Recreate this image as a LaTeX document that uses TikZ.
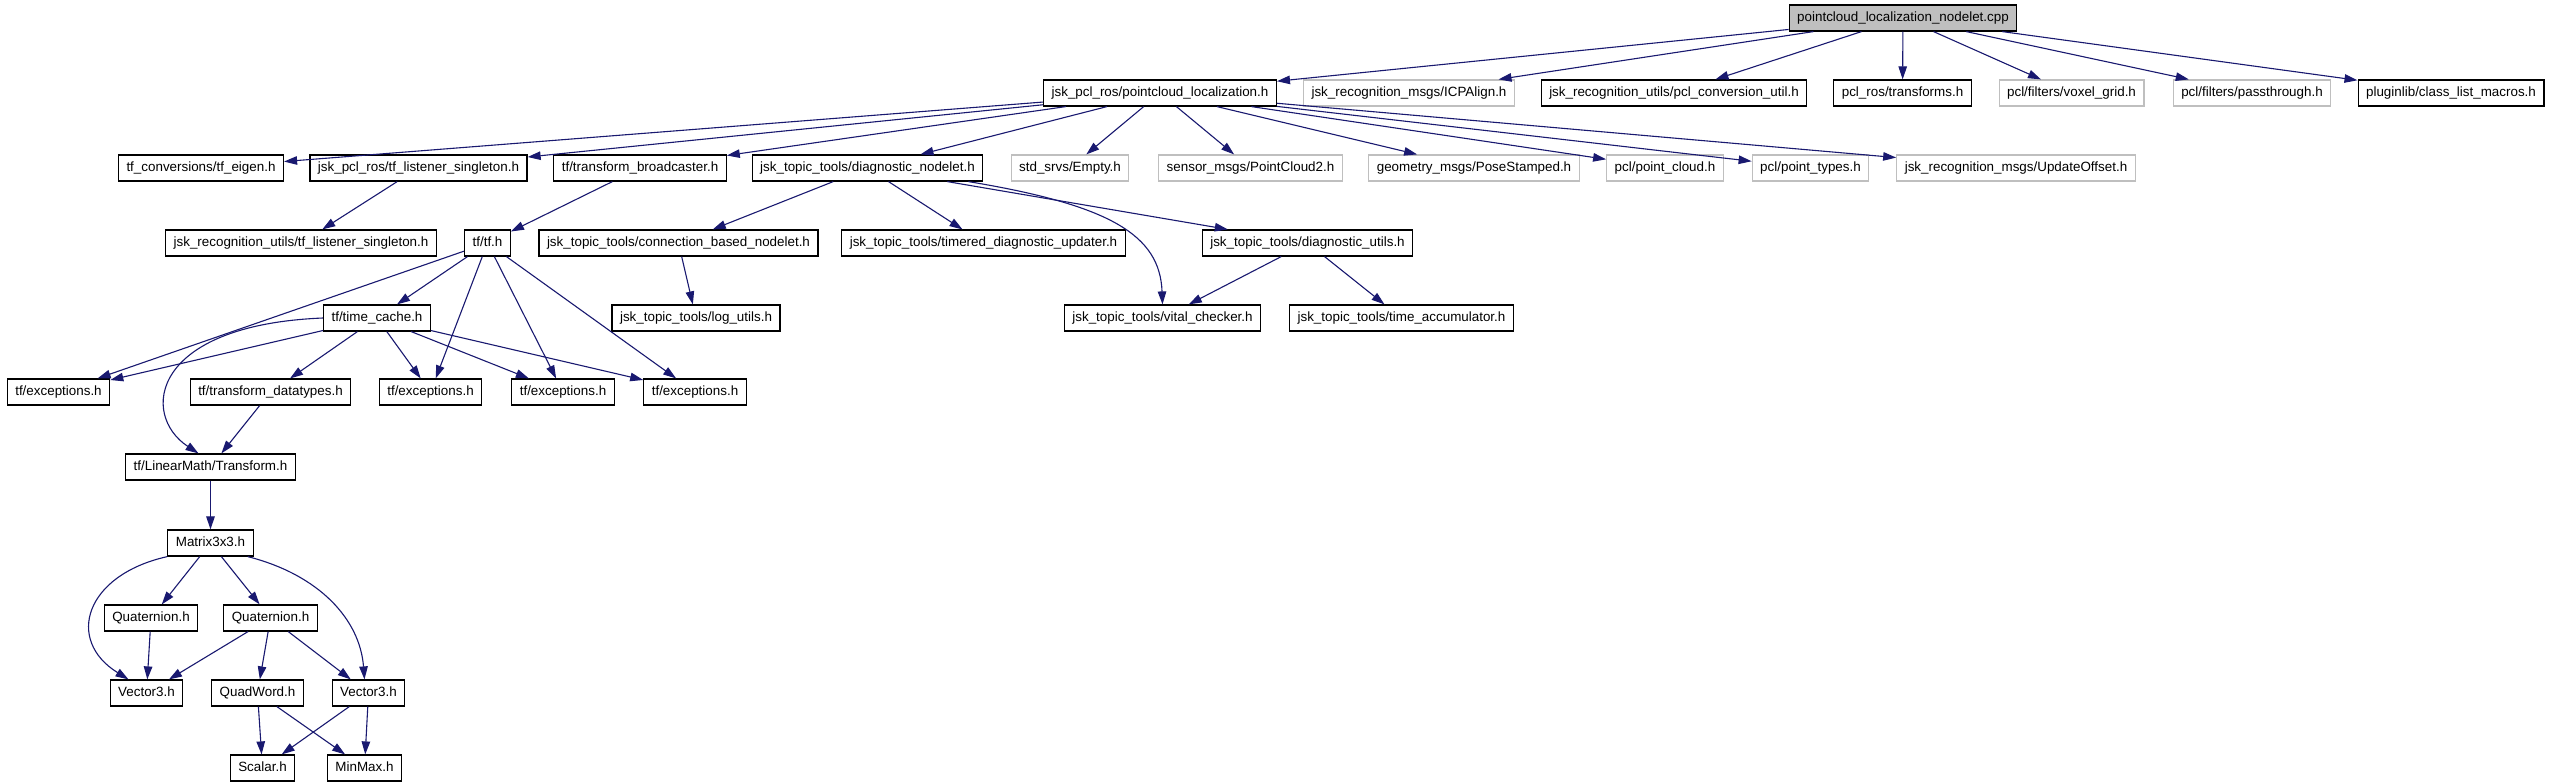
\documentclass[tikz,border=0pt]{standalone}
\usepackage{fontspec}
\setmainfont{Liberation Sans}
\usetikzlibrary{arrows.meta}
\definecolor{edgeblue}{HTML}{191970}
\definecolor{greyline}{HTML}{BFBFBF}
\begin{document}
\begin{tikzpicture}[x=1pt,y=-1pt,
  box/.style={draw=black, line width=1.2pt, fill=white, minimum height=26pt,
    inner xsep=8pt, inner ysep=0pt, text height=10pt, text depth=3pt,
    font=\fontsize{13.4}{16}\selectfont, anchor=center},
  gbox/.style={box, draw=greyline},
  rootbox/.style={box, fill=greyline},
  edge/.style={draw=edgeblue, line width=1.1pt, -{Triangle[length=13pt,width=8.5pt]}},
]
\useasboundingbox[fill=white] (0,0) rectangle (2552,784);

% row 0
\node[rootbox] (root) at (1903,18) {pointcloud\_localization\_nodelet.cpp};
% row 1
\node[box]  (ploc)    at (1160,93)   {jsk\_pcl\_ros/pointcloud\_localization.h};
\node[gbox] (icp)     at (1409,93)   {jsk\_recognition\_msgs/ICPAlign.h};
\node[box]  (pclconv) at (1674,93)   {jsk\_recognition\_utils/pcl\_conversion\_util.h};
\node[box]  (pclros)  at (1902.5,93) {pcl\_ros/transforms.h};
\node[gbox] (voxel)   at (2071.5,93) {pcl/filters/voxel\_grid.h};
\node[gbox] (pass)    at (2252,93)   {pcl/filters/passthrough.h};
\node[box]  (plugin)  at (2451,93)   {pluginlib/class\_list\_macros.h};
% row 2
\node[box]  (tfeigen)  at (201,168)    {tf\_conversions/tf\_eigen.h};
\node[box]  (tflisten) at (418.5,168)  {jsk\_pcl\_ros/tf\_listener\_singleton.h};
\node[box]  (tfbroad)  at (640,168)    {tf/transform\_broadcaster.h};
\node[box]  (diagnode) at (867.5,168)  {jsk\_topic\_tools/diagnostic\_nodelet.h};
\node[gbox] (empty)    at (1070,168)   {std\_srvs/Empty.h};
\node[gbox] (pc2)      at (1250.5,168) {sensor\_msgs/PointCloud2.h};
\node[gbox] (pose)     at (1474,168)   {geometry\_msgs/PoseStamped.h};
\node[gbox] (ptcloud)  at (1665,168)   {pcl/point\_cloud.h};
\node[gbox] (pttypes)  at (1810.5,168) {pcl/point\_types.h};
\node[gbox] (update)   at (2016,168)   {jsk\_recognition\_msgs/UpdateOffset.h};
% row 3
\node[box] (rulisten)  at (301,243)    {jsk\_recognition\_utils/tf\_listener\_singleton.h};
\node[box] (tftf)      at (487.5,243)  {tf/tf.h};
\node[box] (connbased) at (678.5,243)  {jsk\_topic\_tools/connection\_based\_nodelet.h};
\node[box] (timered)   at (983.5,243)  {jsk\_topic\_tools/timered\_diagnostic\_updater.h};
\node[box] (diagutils) at (1307.5,243) {jsk\_topic\_tools/diagnostic\_utils.h};
% row 4
\node[box] (timecache) at (377,318)    {tf/time\_cache.h};
\node[box] (logutils)  at (696,318)    {jsk\_topic\_tools/log\_utils.h};
\node[box] (vital)     at (1162.5,318) {jsk\_topic\_tools/vital\_checker.h};
\node[box] (timeacc)   at (1401.5,318) {jsk\_topic\_tools/time\_accumulator.h};
% row 5
\node[box] (exa)     at (58.5,392)  {tf/exceptions.h};
\node[box] (tdtypes) at (270.5,392) {tf/transform\_datatypes.h};
\node[box] (exb)     at (430.5,392) {tf/exceptions.h};
\node[box] (exc)     at (563,392)   {tf/exceptions.h};
\node[box] (exd)     at (695,392)   {tf/exceptions.h};
% row 6
\node[box] (transform) at (210.5,467) {tf/LinearMath/Transform.h};
% row 7
\node[box] (matrix) at (210.5,543) {Matrix3x3.h};
% row 8
\node[box] (quata) at (151,618)   {Quaternion.h};
\node[box] (quatb) at (270.5,618) {Quaternion.h};
% row 9
\node[box] (veca)  at (146.5,693) {Vector3.h};
\node[box] (quadw) at (257.5,693) {QuadWord.h};
\node[box] (vecb)  at (368.5,693) {Vector3.h};
% row 10
\node[box] (scalar) at (262.5,768) {Scalar.h};
\node[box] (minmax) at (364.5,768) {MinMax.h};

% edges from root
\foreach \t in {ploc,icp,pclconv,pclros,voxel,pass,plugin}
  \draw[edge] (root) -- (\t);
% edges from pointcloud_localization.h
\foreach \t in {tfeigen,tflisten,tfbroad,diagnode,empty,pc2,pose,ptcloud,pttypes,update}
  \draw[edge] (ploc) -- (\t);
\draw[edge] (tflisten) -- (rulisten);
\draw[edge] (tfbroad) -- (tftf);
\draw[edge] (diagnode) -- (connbased);
\draw[edge] (diagnode) -- (timered);
\draw[edge] (diagnode) -- (diagutils);
\draw[edge] ([xshift=-15pt]diagnode.south east) .. controls (1110,205) and (1160,235) .. (vital.north);
\draw[edge] (connbased) -- (logutils);
\draw[edge] (diagutils) -- (vital);
\draw[edge] (diagutils) -- (timeacc);
% tf
\foreach \t in {exa,timecache,exb,exc,exd}
  \draw[edge] (tftf) -- (\t);
\foreach \t in {exa,tdtypes,exb,exc,exd}
  \draw[edge] (timecache) -- (\t);
\draw[edge] (timecache.west) .. controls (150,325) and (140,415) .. ([xshift=-12pt]transform.north);
\draw[edge] (tdtypes) -- (transform);
\draw[edge] (transform) -- (matrix);
% matrix
\draw[edge] (matrix.south west) .. controls (85,575) and (65,640) .. ([xshift=-18pt]veca.north);
\draw[edge] (matrix) -- (quata);
\draw[edge] (matrix) -- (quatb);
\draw[edge] ([xshift=-6pt]matrix.south east) .. controls (320,575) and (360,620) .. ([xshift=-4pt]vecb.north);
\draw[edge] (quata) -- (veca);
\draw[edge] (quatb) -- (veca);
\draw[edge] (quatb) -- (quadw);
\draw[edge] (quatb) -- (vecb);
\draw[edge] (quadw) -- (scalar);
\draw[edge] (quadw) -- (minmax);
\draw[edge] (vecb) -- (scalar);
\draw[edge] (vecb) -- (minmax);
\end{tikzpicture}
\end{document}
